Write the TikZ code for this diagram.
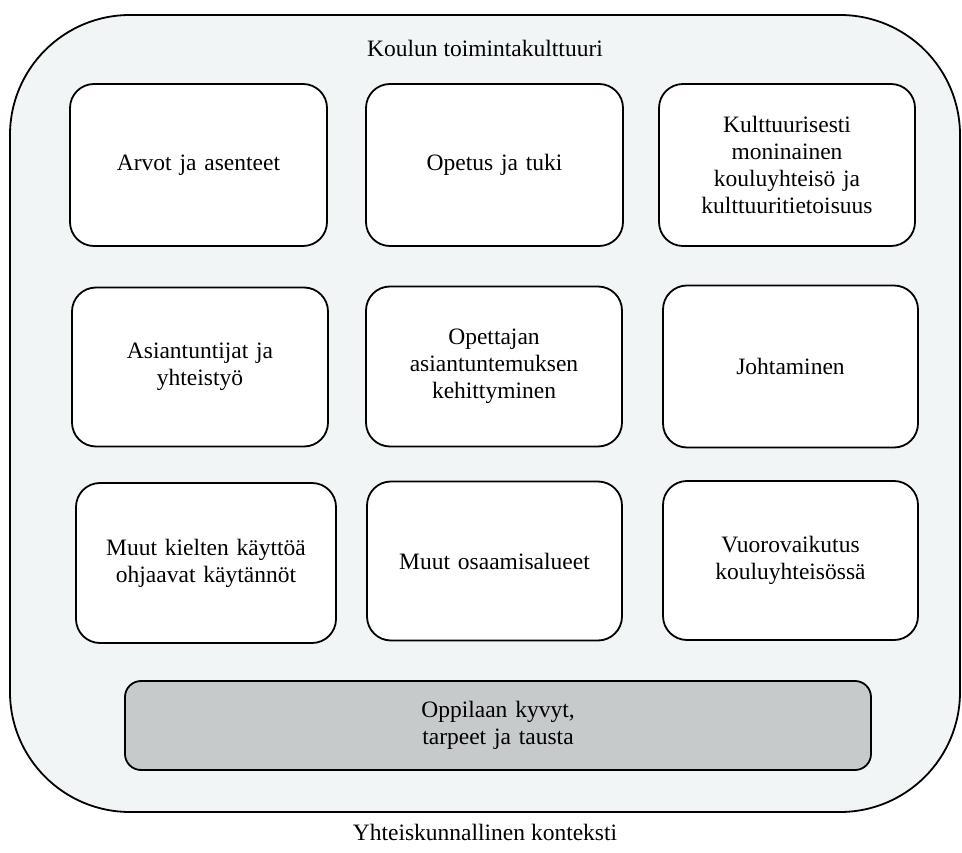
\documentclass[tikz,border=0pt]{standalone}
\usepackage{fontspec}
\setmainfont{Liberation Serif}
\definecolor{outerfill}{HTML}{F1F5F5}
\definecolor{grayfill}{HTML}{C6CACA}
\tikzset{
  card/.style={draw=black, line width=1.8pt, fill=white, rounded corners=24pt,
    inner sep=0pt, align=center, font=\fontsize{23.5}{27}\selectfont, text width=240pt},
  graybox/.style={card, fill=grayfill, rounded corners=16pt},
  plain/.style={inner sep=0pt, font=\fontsize{23.5}{27}\selectfont}
}
\begin{document}
\begin{tikzpicture}[x=1pt,y=-1pt]
\useasboundingbox (0,0) rectangle (962,853);
\node[draw=black, line width=1.8pt, fill=outerfill, rounded corners=120pt,
  minimum width=950pt, minimum height=797pt, inner sep=0pt] (outer) at (485,413.5) {};
\node[plain] (title) at (485,48) {Koulun toimintakulttuuri};
\node[card, minimum width=257pt, minimum height=162pt] (b1) at (198.5,165) {Arvot ja asenteet};
\node[card, minimum width=257pt, minimum height=162pt] (b2) at (494.5,165) {Opetus ja tuki};
\node[card, minimum width=256pt, minimum height=162pt] (b3) at (787,165) {Kulttuurisesti\\moninainen\\kouluyhteisö ja\\kulttuuritietoisuus};
\node[card, minimum width=256pt, minimum height=159pt] (b4) at (200,367) {Asiantuntijat ja\\yhteistyö};
\node[card, minimum width=256pt, minimum height=160pt] (b5) at (494,366.5) {Opettajan\\asiantuntemuksen\\kehittyminen};
\node[card, minimum width=255pt, minimum height=162pt] (b6) at (790.5,366.5) {Johtaminen};
\node[card, minimum width=260pt, minimum height=160pt] (b7) at (206,563) {Muut kielten käyttöä\\ohjaavat käytännöt};
\node[card, minimum width=255pt, minimum height=159pt] (b8) at (494.5,561) {Muut osaamisalueet};
\node[card, minimum width=255pt, minimum height=159pt] (b9) at (790.5,560.5) {Vuorovaikutus\\kouluyhteisössä};
\node[graybox, minimum width=746pt, minimum height=89pt] (oppilas) at (498,725.5) {Oppilaan kyvyt,\\tarpeet ja tausta};
\node[plain] (konteksti) at (485,832) {Yhteiskunnallinen konteksti};
\end{tikzpicture}
\end{document}
